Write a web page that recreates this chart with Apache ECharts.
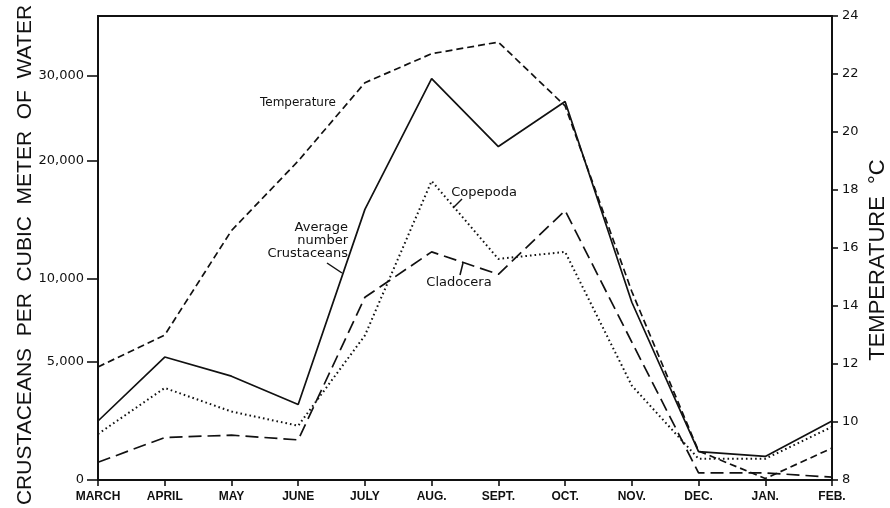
<!DOCTYPE html>
<html>
<head>
<meta charset="utf-8">
<script src="https://cdn.jsdelivr.net/npm/echarts@6/dist/echarts.min.js"></script>
<style>
  html, body { margin: 0; padding: 0; background: #fff; }
  #chart { width: 890px; height: 508px; }
</style>
</head>
<body>
<div id="chart"></div>
<script>
// Months along the bottom axis
const months = ['MARCH', 'APRIL', 'MAY', 'JUNE', 'JULY', 'AUG.', 'SEPT.', 'OCT.', 'NOV.', 'DEC.', 'JAN.', 'FEB.'];

// Crustaceans per cubic metre of water
const averageCrustaceans = [2500, 5300, 4400, 3200, 15900, 29700, 21700, 27000, 8600, 1200, 1000, 2500];
const copepoda           = [1950, 3900, 2900, 2300, 6600, 18300, 11700, 12300, 4000, 900, 900, 2250];
const cladocera          = [750, 1800, 1900, 1700, 8900, 12300, 10400, 15800, 6200, 300, 300, 120];

// Water temperature, °C
const temperature = [11.9, 13.0, 16.6, 19.0, 21.7, 22.7, 23.1, 20.9, 14.5, 9.0, 8.05, 9.1];

// Left axis tick values
const countTicks = [0, 5000, 10000, 20000, 30000];
// Right axis range
const tempMin = 8, tempMax = 24, tempStep = 2;

// The count axis is drawn on a non-uniform ruling: each tick value sits at
// the given fraction of the axis height, with straight segments between.
const countKnots = [0, 5000, 10000, 20000, 30000];
const axisKnots  = [0, 0.2543, 0.4332, 0.6875, 0.8707];

function toAxis(v) {
  let i = 1;
  while (i < countKnots.length - 1 && v > countKnots[i]) i++;
  const v0 = countKnots[i - 1], v1 = countKnots[i];
  const a0 = axisKnots[i - 1], a1 = axisKnots[i];
  return a0 + (v - v0) / (v1 - v0) * (a1 - a0);
}
function fromAxis(a) {
  let i = 1;
  while (i < axisKnots.length - 1 && a > axisKnots[i]) i++;
  const v0 = countKnots[i - 1], v1 = countKnots[i];
  const a0 = axisKnots[i - 1], a1 = axisKnots[i];
  return v0 + (a - a0) / (a1 - a0) * (v1 - v0);
}

const ink = '#111111';
const labelFont = 'DejaVu Sans';

const chart = echarts.init(document.getElementById('chart'), null, { renderer: 'canvas' });

const lineCommon = {
  type: 'line',
  symbol: 'none',
  smooth: false,
  silent: true,
  animation: false
};

chart.setOption({
  backgroundColor: '#ffffff',
  animation: false,
  grid: {
    left: 98, right: 58, top: 16, bottom: 28,
    show: true,
    borderColor: ink,
    borderWidth: 1.8,
    backgroundColor: 'transparent'
  },
  xAxis: {
    type: 'category',
    data: months,
    boundaryGap: false,
    axisLine: { show: true, lineStyle: { color: ink, width: 2 } },
    axisTick: { show: true, inside: false, length: 6, alignWithLabel: true, lineStyle: { color: ink, width: 1.6 } },
    axisLabel: {
      color: ink, fontFamily: 'Liberation Sans', fontWeight: 'bold', fontSize: 12,
      margin: 11, interval: 0
    },
    splitLine: { show: false }
  },
  yAxis: [
    {
      type: 'value',
      position: 'left',
      min: 0,
      max: 1,
      axisLine: { show: true, lineStyle: { color: ink, width: 2 } },
      axisTick: {
        show: true, inside: false, length: 11,
        customValues: countTicks.map(toAxis),
        lineStyle: { color: ink, width: 1.6 }
      },
      axisLabel: {
        customValues: countTicks.map(toAxis),
        margin: 14,
        color: ink, fontFamily: labelFont, fontSize: 13,
        formatter: function (a) {
          const v = Math.round(fromAxis(a) / 100) * 100;
          return v === 0 ? '0' : v.toLocaleString('en-US');
        }
      },
      splitLine: { show: false }
    },
    {
      type: 'value',
      position: 'right',
      min: tempMin,
      max: tempMax,
      interval: tempStep,
      axisLine: { show: true, lineStyle: { color: ink, width: 2 } },
      axisTick: { show: true, inside: false, length: 6, lineStyle: { color: ink, width: 1.6 } },
      axisLabel: { margin: 10, color: ink, fontFamily: labelFont, fontSize: 13 },
      splitLine: { show: false }
    }
  ],
  series: [
    Object.assign({}, lineCommon, {
      name: 'Temperature',
      yAxisIndex: 1,
      data: temperature,
      lineStyle: { color: ink, width: 1.7, type: [7, 4] }
    }),
    Object.assign({}, lineCommon, {
      name: 'Average number Crustaceans',
      yAxisIndex: 0,
      data: averageCrustaceans.map(toAxis),
      lineStyle: { color: ink, width: 1.7, type: 'solid' }
    }),
    Object.assign({}, lineCommon, {
      name: 'Copepoda',
      yAxisIndex: 0,
      data: copepoda.map(toAxis),
      lineStyle: { color: ink, width: 2, type: [1.6, 3] }
    }),
    Object.assign({}, lineCommon, {
      name: 'Cladocera',
      yAxisIndex: 0,
      data: cladocera.map(toAxis),
      lineStyle: { color: ink, width: 1.7, type: [13, 6] }
    })
  ],
  graphic: [
    // Axis titles
    {
      type: 'text', x: 25, y: 255, rotation: Math.PI / 2,
      style: {
        text: 'CRUSTACEANS  PER  CUBIC  METER  OF  WATER',
        fill: ink, font: '21px "Liberation Sans"',
        align: 'center', verticalAlign: 'middle'
      }
    },
    {
      type: 'text', x: 878, y: 260, rotation: Math.PI / 2,
      style: {
        text: 'TEMPERATURE  °C',
        fill: ink, font: '22px "Liberation Sans"',
        align: 'center', verticalAlign: 'middle'
      }
    },
    // Series captions
    {
      type: 'text', x: 298, y: 103,
      style: { text: 'Temperature', fill: ink, font: '12px "DejaVu Sans"', align: 'center', verticalAlign: 'middle' }
    },
    {
      type: 'text', x: 348, y: 241,
      style: {
        text: 'Average\nnumber\nCrustaceans', fill: ink, font: '13px "DejaVu Sans"',
        lineHeight: 13, align: 'right', verticalAlign: 'middle'
      }
    },
    {
      type: 'line', shape: { x1: 327, y1: 263, x2: 342, y2: 273 },
      style: { stroke: ink, lineWidth: 1.5 }
    },
    {
      type: 'text', x: 484, y: 193,
      style: { text: 'Copepoda', fill: ink, font: '13px "DejaVu Sans"', align: 'center', verticalAlign: 'middle' }
    },
    {
      type: 'line', shape: { x1: 462, y1: 199, x2: 453, y2: 208 },
      style: { stroke: ink, lineWidth: 1.5 }
    },
    {
      type: 'text', x: 459, y: 283,
      style: { text: 'Cladocera', fill: ink, font: '13px "DejaVu Sans"', align: 'center', verticalAlign: 'middle' }
    },
    {
      type: 'line', shape: { x1: 460, y1: 275, x2: 463, y2: 263 },
      style: { stroke: ink, lineWidth: 1.5 }
    }
  ]
});
</script>
</body>
</html>
